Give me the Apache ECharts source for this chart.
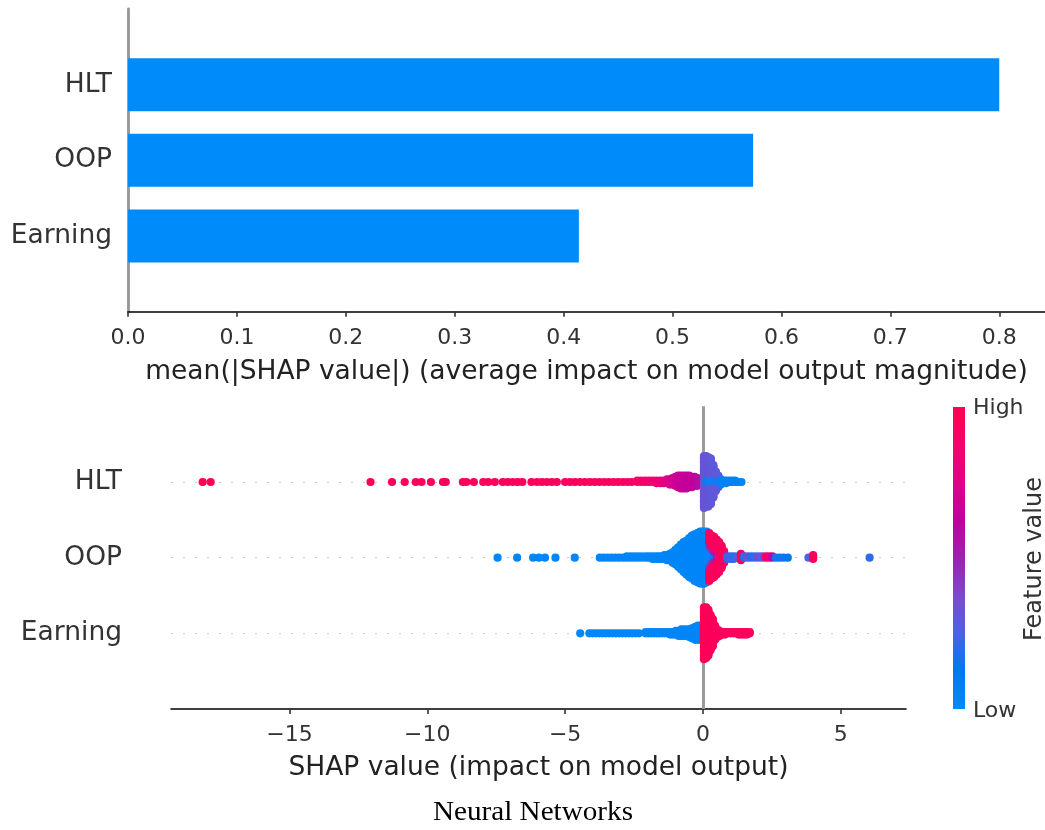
<!DOCTYPE html>
<html>
<head>
<meta charset="utf-8">
<script src="https://cdn.jsdelivr.net/npm/echarts@6/dist/echarts.min.js"></script>
<style>
  html, body { margin: 0; padding: 0; background: #ffffff; }
  #chart { width: 1045px; height: 830px; }
</style>
</head>
<body>
<div id="chart"></div>
<script>
// Features, ordered from the most to the least important
const features = ['HLT', 'OOP', 'Earning'];

// mean(|SHAP value|) per feature
const meanAbsShap = [0.800, 0.574, 0.414];

// Tick labels
const barTicks = [0, 0.1, 0.2, 0.3, 0.4, 0.5, 0.6, 0.7, 0.8];
const shapTicks = [-15, -10, -5, 0, 5];

// Beeswarm samples: [SHAP value, number of samples at that value, normalised feature value]
const hltPoints = [
  [-18.15, 1, 0.97], [-17.86, 1, 0.97], [-12.06, 1, 0.96], [-11.28, 1, 0.96], [-10.82, 1, 0.96],
  [-10.42, 1, 0.95], [-10.21, 1, 0.96], [-9.87, 1, 0.95], [-9.43, 1, 0.96], [-9.33, 1, 0.95],
  [-8.71, 1, 0.95], [-8.58, 1, 0.96], [-8.31, 1, 0.95], [-7.97, 1, 0.95], [-7.79, 1, 0.96],
  [-7.55, 1, 0.95], [-7.26, 1, 0.95], [-7.08, 1, 0.96], [-6.90, 1, 0.95], [-6.72, 1, 0.95],
  [-6.55, 1, 0.96], [-6.22, 1, 0.95], [-6.02, 1, 0.95], [-5.84, 1, 0.96], [-5.66, 1, 0.95],
  [-5.48, 1, 0.95], [-5.30, 1, 0.94], [-5.00, 1, 0.95], [-4.82, 1, 0.95], [-4.64, 1, 0.94],
  [-4.46, 1, 0.95], [-4.28, 1, 0.94], [-4.10, 1, 0.95], [-3.92, 1, 0.94], [-3.75, 1, 0.94],
  [-3.58, 1, 0.93], [-3.41, 1, 0.94], [-3.24, 1, 0.93], [-3.07, 1, 0.93], [-2.90, 1, 0.92],
  [-2.73, 1, 0.92], [-2.58, 1, 0.92],
  [-2.38, 2, 0.90], [-2.24, 2, 0.88], [-2.10, 2, 0.88], [-1.96, 2, 0.86], [-1.82, 2, 0.85],
  [-1.68, 3, 0.83], [-1.54, 3, 0.80], [-1.42, 3, 0.78],
  [-1.30, 4, 0.75], [-1.20, 5, 0.72], [-1.10, 6, 0.70], [-1.00, 8, 0.68], [-0.90, 10, 0.66],
  [-0.80, 11, 0.65], [-0.70, 11, 0.64], [-0.60, 11, 0.64], [-0.50, 10, 0.63], [-0.40, 9, 0.63],
  [-0.30, 8, 0.62], [-0.20, 7, 0.60], [-0.12, 5, 0.58],
  [0.04, 41, 0.32],
  [0.12, 4, 0.08], [0.12, 36, 0.32],
  [0.20, 8, 0.06], [0.20, 31, 0.32],
  [0.29, 10, 0.05], [0.29, 26, 0.30],
  [0.38, 10, 0.05], [0.38, 16, 0.30],
  [0.47, 8, 0.05], [0.47, 8, 0.30],
  [0.56, 6, 0.05], [0.56, 4, 0.30],
  [0.65, 5, 0.06], [0.74, 3, 0.05], [0.84, 3, 0.05], [0.95, 2, 0.05], [1.06, 2, 0.05],
  [1.17, 2, 0.05], [1.28, 1, 0.05], [1.40, 1, 0.05]
];

const oopPoints = [
  [-7.45, 1, 0.03], [-6.74, 1, 0.03], [-6.16, 1, 0.03], [-5.95, 1, 0.04], [-5.73, 1, 0.03],
  [-5.35, 1, 0.03], [-4.65, 1, 0.03],
  [-3.74, 1, 0.03], [-3.60, 1, 0.03], [-3.46, 1, 0.03], [-3.32, 1, 0.03], [-3.18, 1, 0.03],
  [-3.04, 1, 0.03], [-2.90, 1, 0.03], [-2.76, 2, 0.03], [-2.62, 2, 0.03], [-2.48, 2, 0.03],
  [-2.34, 2, 0.03], [-2.20, 2, 0.03], [-2.06, 2, 0.03], [-1.94, 2, 0.03], [-1.82, 3, 0.03],
  [-1.70, 3, 0.03], [-1.60, 3, 0.03], [-1.50, 3, 0.03], [-1.40, 4, 0.03], [-1.30, 5, 0.03],
  [-1.20, 6, 0.03], [-1.10, 9, 0.03], [-1.00, 12, 0.03], [-0.90, 16, 0.03], [-0.80, 20, 0.03],
  [-0.70, 24, 0.03], [-0.60, 27, 0.03], [-0.50, 31, 0.03], [-0.40, 34, 0.03], [-0.30, 37, 0.03],
  [-0.20, 39, 0.03], [-0.10, 41, 0.03], [-0.03, 41, 0.03],
  [0.05, 41, 0.03], [0.14, 40, 0.03],
  [0.23, 16, 0.04], [0.23, 8, 0.45], [0.23, 14, 0.95],
  [0.32, 10, 0.04], [0.32, 6, 0.45], [0.32, 18, 0.95],
  [0.41, 6, 0.06], [0.41, 6, 0.50], [0.41, 20, 0.95],
  [0.50, 4, 0.10], [0.50, 6, 0.55], [0.50, 18, 0.95],
  [0.59, 4, 0.40], [0.59, 20, 0.95],
  [0.68, 3, 0.45], [0.68, 15, 0.95],
  [0.77, 2, 0.40], [0.77, 8, 0.95],
  [0.88, 3, 0.20], [1.00, 3, 0.22], [1.12, 3, 0.20], [1.25, 2, 0.25], [1.38, 6, 0.95],
  [1.50, 2, 0.20], [1.62, 2, 0.30], [1.75, 2, 0.20], [1.88, 2, 0.22], [2.02, 2, 0.35],
  [2.15, 2, 0.25], [2.28, 2, 0.90], [2.40, 2, 0.85], [2.52, 2, 0.60], [2.65, 1, 0.15],
  [2.78, 1, 0.15], [2.92, 1, 0.15], [3.08, 1, 0.12], [3.83, 1, 0.25], [4.00, 4, 0.95],
  [6.05, 1, 0.20]
];

const earningPoints = [
  [-4.45, 1, 0.03],
  [-4.12, 1, 0.03], [-4.00, 1, 0.03], [-3.88, 1, 0.03], [-3.76, 1, 0.03], [-3.64, 1, 0.03],
  [-3.52, 1, 0.03], [-3.40, 1, 0.03], [-3.28, 1, 0.03], [-3.16, 1, 0.03], [-3.04, 1, 0.03],
  [-2.92, 1, 0.03], [-2.80, 1, 0.03], [-2.68, 1, 0.03], [-2.56, 1, 0.03], [-2.44, 1, 0.03],
  [-2.32, 1, 0.03],
  [-2.08, 2, 0.03], [-1.98, 2, 0.03], [-1.88, 2, 0.03], [-1.78, 2, 0.03], [-1.68, 2, 0.03],
  [-1.58, 2, 0.03], [-1.48, 2, 0.03], [-1.38, 2, 0.03], [-1.28, 2, 0.03],
  [-1.18, 3, 0.03], [-1.08, 3, 0.03], [-0.98, 4, 0.03], [-0.88, 5, 0.03], [-0.78, 6, 0.03],
  [-0.68, 6, 0.03], [-0.58, 6, 0.03], [-0.48, 7, 0.03], [-0.38, 9, 0.03], [-0.28, 11, 0.03],
  [-0.18, 12, 0.03], [-0.08, 12, 0.03],
  [0.04, 41, 0.97], [0.12, 40, 0.97], [0.20, 36, 0.97], [0.28, 28, 0.96], [0.36, 22, 0.96],
  [0.44, 12, 0.95], [0.52, 7, 0.95], [0.60, 5, 0.95], [0.70, 3, 0.95], [0.80, 3, 0.95],
  [0.90, 2, 0.95], [1.00, 2, 0.95], [1.10, 2, 0.95], [1.20, 2, 0.95], [1.30, 3, 0.95],
  [1.40, 3, 0.95], [1.50, 3, 0.95], [1.60, 3, 0.95], [1.70, 2, 0.95]
];

const swarmSamples = [hltPoints, oopPoints, earningPoints];

// red_blue colour ramp, low -> high feature value
const featureColors = ['#008afa', '#0078f3', '#4b63e3', '#7d49cc', '#9b23ad',
                       '#c2009c', '#e00086', '#f5006c', '#ff0052'];

// Stack samples sharing a SHAP value outward from the feature's row,
// alternating above and below, scaled so the tallest stack fills 0.36 of a row.
function swarmLayout(entries, row) {
  const layers = new Map();
  const raw = [];
  let maxUp = 1;
  entries.forEach(([x, n, fv]) => {
    for (let i = 0; i < n; i++) {
      const layer = layers.get(x) || 0;
      const ys = Math.ceil(layer / 2) * ((layer % 2) * 2 - 1);
      layers.set(x, layer + 1);
      raw.push([x, ys, fv]);
      maxUp = Math.max(maxUp, ys + 1);
    }
  });
  const scale = 0.9 * 0.4 / maxUp;
  return raw.map(([x, ys, fv]) => [x, row + ys * scale, fv]);
}

const nRows = features.length;
const beeswarmData = [];
features.forEach((name, i) => {
  swarmLayout(swarmSamples[i], nRows - 1 - i).forEach(p => beeswarmData.push(p));
});

const barCategories = [''].concat(features.slice().reverse(), ['']);
const barValues = ['-'].concat(meanAbsShap.slice().reverse(), ['-']);

const FONT = 'DejaVu Sans';
const INK = '#333333';
const LABEL_SIZE = 26.5;
const TICK_SIZE = 22;

// Colour bar gradient, bottom (low) to top (high)
const colorbarFill = new echarts.graphic.LinearGradient(0, 1, 0, 0,
  featureColors.map((c, i) => ({ offset: i / (featureColors.length - 1), color: c })));

const chart = echarts.init(document.getElementById('chart'), null, { renderer: 'canvas' });

chart.setOption({
  animation: false,
  backgroundColor: '#ffffff',
  textStyle: { fontFamily: FONT },
  grid: [
    { left: 128, top: 9, width: 917, height: 302.7, containLabel: false },
    { left: 171, top: 406.3, width: 735, height: 302.7, containLabel: false }
  ],
  xAxis: [
    {
      gridIndex: 0, type: 'value', min: 0, max: 0.842,
      axisLine: { show: true, onZero: false, lineStyle: { color: '#000000', width: 1.6 } },
      axisTick: { show: true, length: 5, customValues: barTicks, lineStyle: { color: INK, width: 1.6 } },
      axisLabel: {
        customValues: barTicks, margin: 16, color: INK, fontSize: TICK_SIZE, fontFamily: FONT,
        formatter: v => v.toFixed(1)
      },
      splitLine: { show: false },
      name: 'mean(|SHAP value|) (average impact on model output magnitude)',
      nameLocation: 'middle', nameGap: 47,
      nameTextStyle: { color: '#222222', fontSize: LABEL_SIZE, fontFamily: FONT }
    },
    {
      gridIndex: 1, type: 'value', min: -19.3, max: 7.37,
      axisLine: { show: true, onZero: false, lineStyle: { color: '#000000', width: 1.6 } },
      axisTick: { show: true, length: 5, customValues: shapTicks, lineStyle: { color: INK, width: 1.6 } },
      axisLabel: {
        customValues: shapTicks, margin: 15, color: INK, fontSize: TICK_SIZE, fontFamily: FONT,
        formatter: v => (v < 0 ? '\u2212' + Math.abs(v) : String(v))
      },
      splitLine: { show: false },
      name: 'SHAP value (impact on model output)',
      nameLocation: 'middle', nameGap: 46,
      nameTextStyle: { color: '#222222', fontSize: LABEL_SIZE, fontFamily: FONT }
    }
  ],
  yAxis: [
    {
      gridIndex: 0, type: 'category', data: barCategories, boundaryGap: false,
      axisLine: { show: true, lineStyle: { color: '#999999', width: 2.9 } },
      axisTick: { show: false },
      axisLabel: { margin: 16, color: INK, fontSize: LABEL_SIZE, fontFamily: FONT },
      splitLine: { show: false }
    },
    {
      gridIndex: 1, type: 'value', min: -1, max: 3,
      axisLine: { show: false },
      axisTick: { show: false },
      axisLabel: {
        customValues: [0, 1, 2], margin: 49, color: INK, fontSize: LABEL_SIZE, fontFamily: FONT,
        formatter: v => features[nRows - 1 - v]
      },
      splitLine: { show: false }
    }
  ],
  visualMap: {
    show: false, type: 'continuous', min: 0, max: 1, dimension: 2, seriesIndex: 2,
    inRange: { color: featureColors }
  },
  series: [
    {
      type: 'bar', xAxisIndex: 0, yAxisIndex: 0, data: barValues, barWidth: 53,
      itemStyle: { color: '#008bfb' }, silent: true, z: 2
    },
    {
      type: 'scatter', xAxisIndex: 1, yAxisIndex: 1, data: [], z: 1, silent: true,
      markLine: {
        silent: true, z: 1, symbol: ['none', 'none'], label: { show: false },
        lineStyle: { color: '#cccccc', width: 1, type: [2, 10] },
        data: [
          { yAxis: 0 }, { yAxis: 1 }, { yAxis: 2 },
          { xAxis: 0, lineStyle: { color: '#999999', width: 2.9, type: 'solid' } }
        ]
      }
    },
    {
      type: 'scatter', xAxisIndex: 1, yAxisIndex: 1, data: beeswarmData,
      symbol: 'circle', symbolSize: 8.2, silent: true, z: 3,
      itemStyle: { opacity: 1, borderWidth: 0 }
    }
  ],
  graphic: [
    { type: 'rect', shape: { x: 953, y: 407, width: 12, height: 302 }, style: { fill: colorbarFill }, silent: true },
    {
      type: 'text', x: 973, y: 408,
      style: { text: 'High', fill: INK, font: TICK_SIZE + 'px "DejaVu Sans"', align: 'left', verticalAlign: 'middle' }
    },
    {
      type: 'text', x: 973, y: 711,
      style: { text: 'Low', fill: INK, font: TICK_SIZE + 'px "DejaVu Sans"', align: 'left', verticalAlign: 'middle' }
    },
    {
      type: 'text', x: 1035, y: 559, rotation: Math.PI / 2,
      style: { text: 'Feature value', fill: INK, font: '24px "DejaVu Sans"', align: 'center', verticalAlign: 'middle' }
    },
    {
      type: 'text', x: 533, y: 813, scaleX: 1.08,
      style: { text: 'Neural Networks', fill: '#000000', font: '27px "Liberation Serif"', align: 'center', verticalAlign: 'middle' }
    }
  ]
});
</script>
</body>
</html>
